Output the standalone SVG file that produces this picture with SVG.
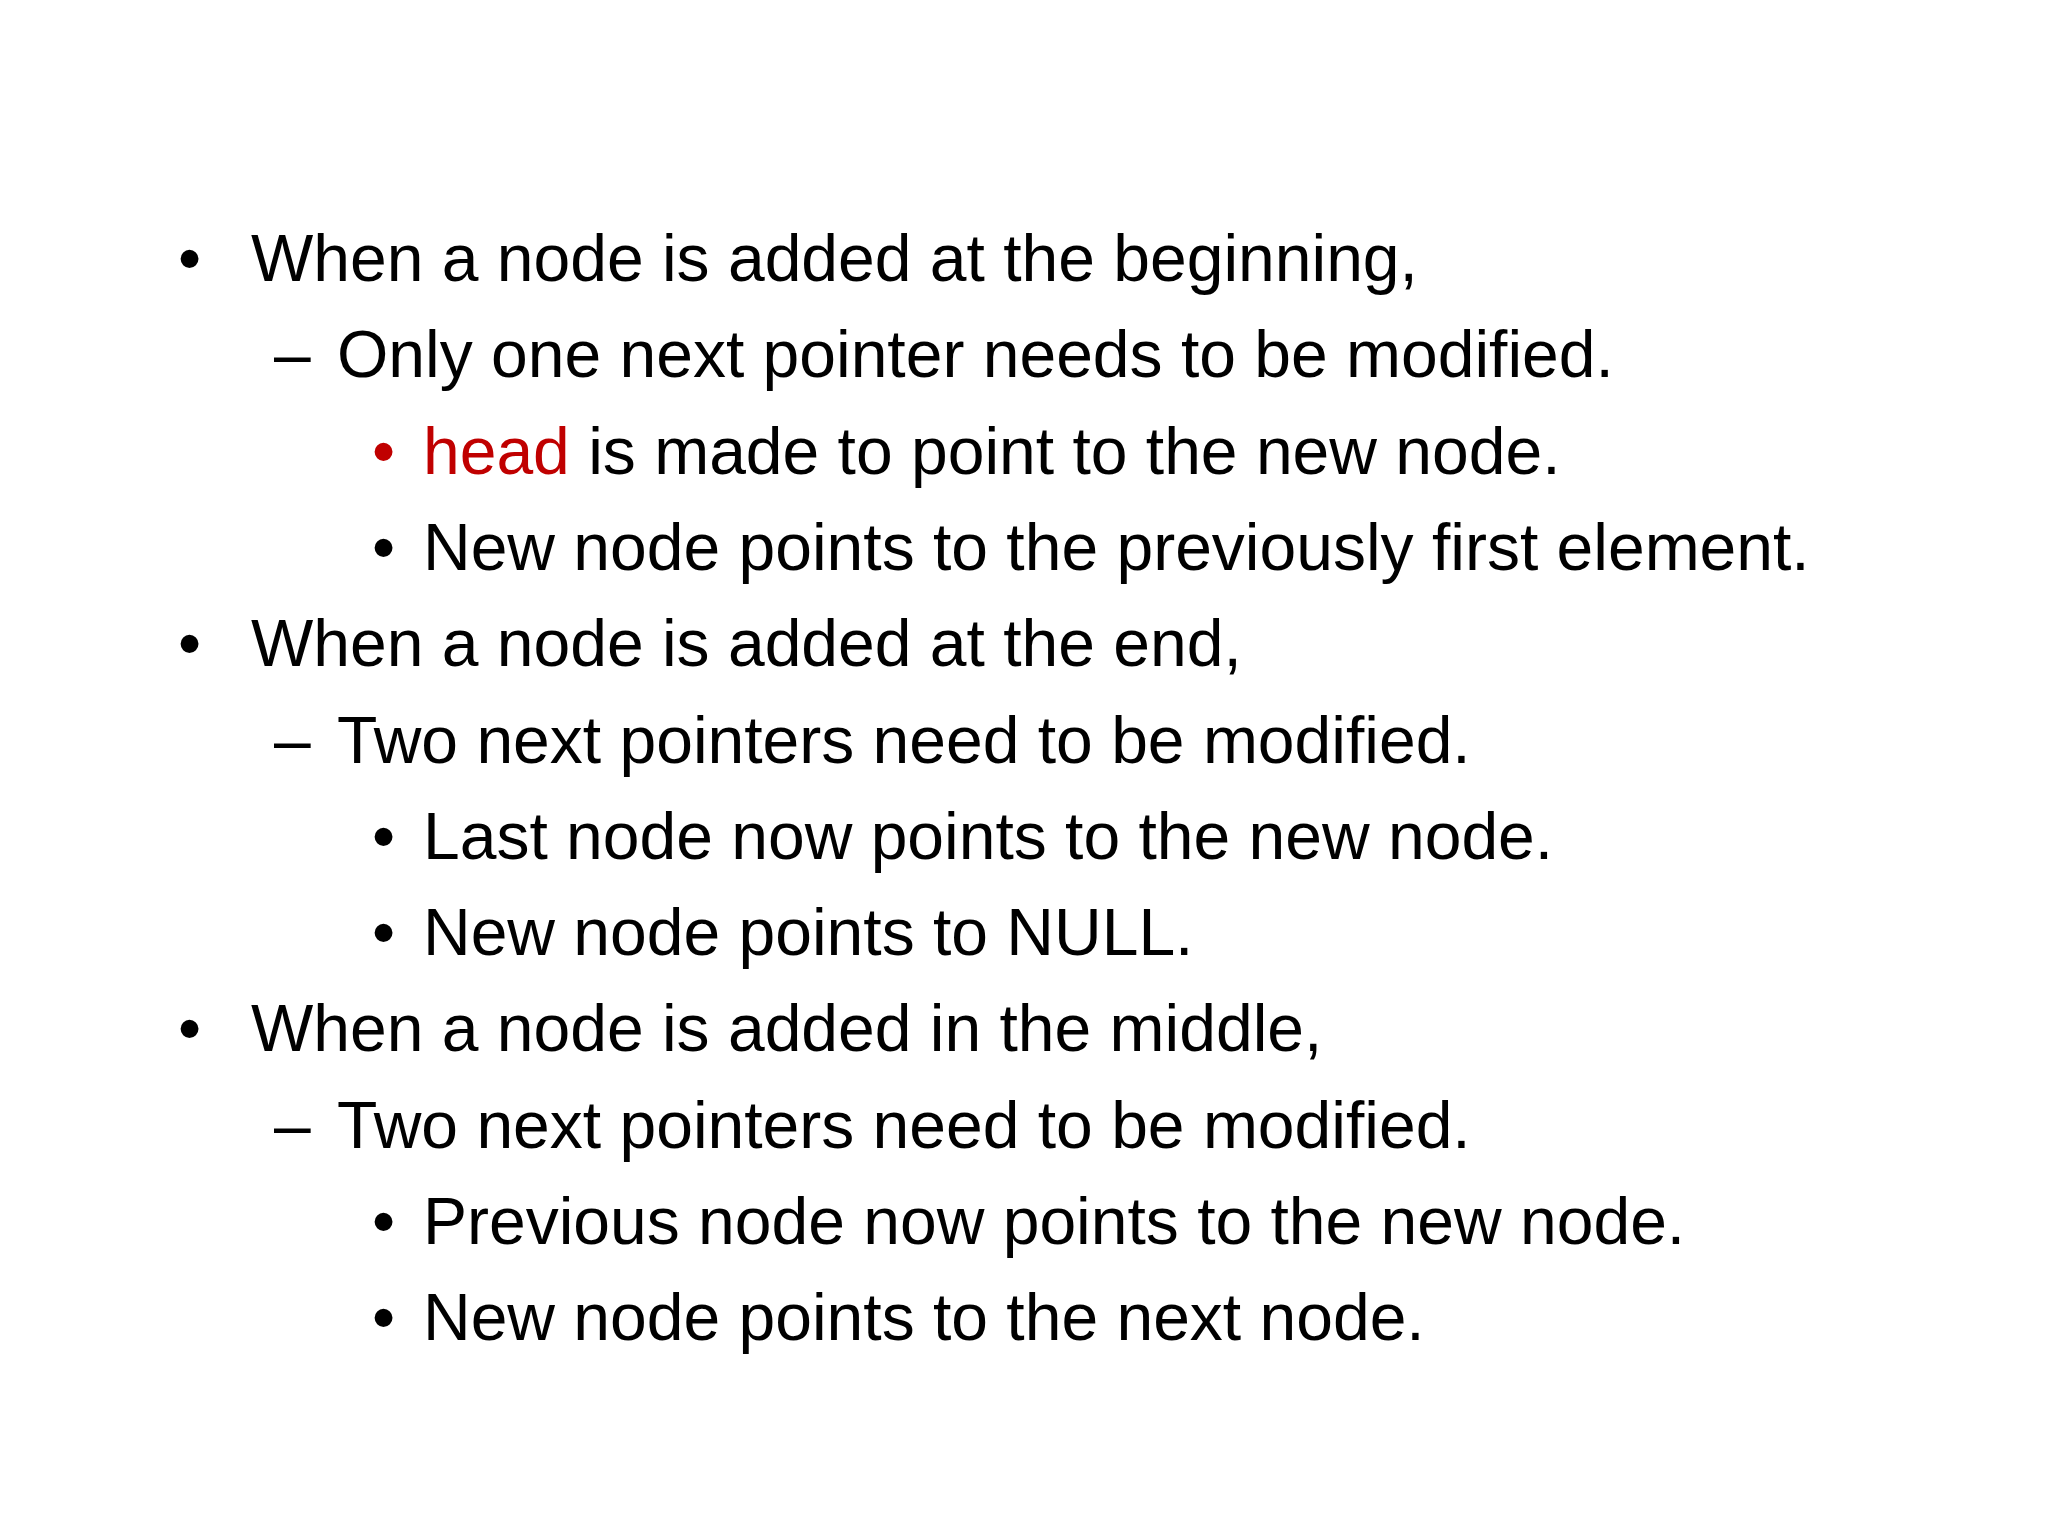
<svg xmlns="http://www.w3.org/2000/svg" width="2048" height="1536" viewBox="0 0 2048 1536">
<style>
text{font-family:"Liberation Sans",Arial,sans-serif;font-size:66px;fill:#000}
.r{fill:#c00000}
</style>
<rect width="2048" height="1536" fill="#fff"/>
<g id="b1"><text x="178" y="281">•</text><text x="251" y="281">When a node is added at the beginning,</text></g>
<g id="b1a"><text x="274" y="377">–</text><text x="337" y="377">Only one next pointer needs to be modified.</text></g>
<g id="b1a1"><text x="372" y="474" class="r">•</text><text x="423" y="474"><tspan class="r">head</tspan> is made to point to the new node.</text></g>
<g id="b1a2"><text x="372" y="570">•</text><text x="423" y="570">New node points to the previously first element.</text></g>
<g id="b2"><text x="178" y="666">•</text><text x="251" y="666">When a node is added at the end,</text></g>
<g id="b2a"><text x="274" y="763">–</text><text x="337" y="763">Two next pointers need to be modified.</text></g>
<g id="b2a1"><text x="372" y="859">•</text><text x="423" y="859">Last node now points to the new node.</text></g>
<g id="b2a2"><text x="372" y="955">•</text><text x="423" y="955">New node points to NULL.</text></g>
<g id="b3"><text x="178" y="1051">•</text><text x="251" y="1051">When a node is added in the middle,</text></g>
<g id="b3a"><text x="274" y="1148">–</text><text x="337" y="1148">Two next pointers need to be modified.</text></g>
<g id="b3a1"><text x="372" y="1244">•</text><text x="423" y="1244">Previous node now points to the new node.</text></g>
<g id="b3a2"><text x="372" y="1340">•</text><text x="423" y="1340">New node points to the next node.</text></g>
</svg>
